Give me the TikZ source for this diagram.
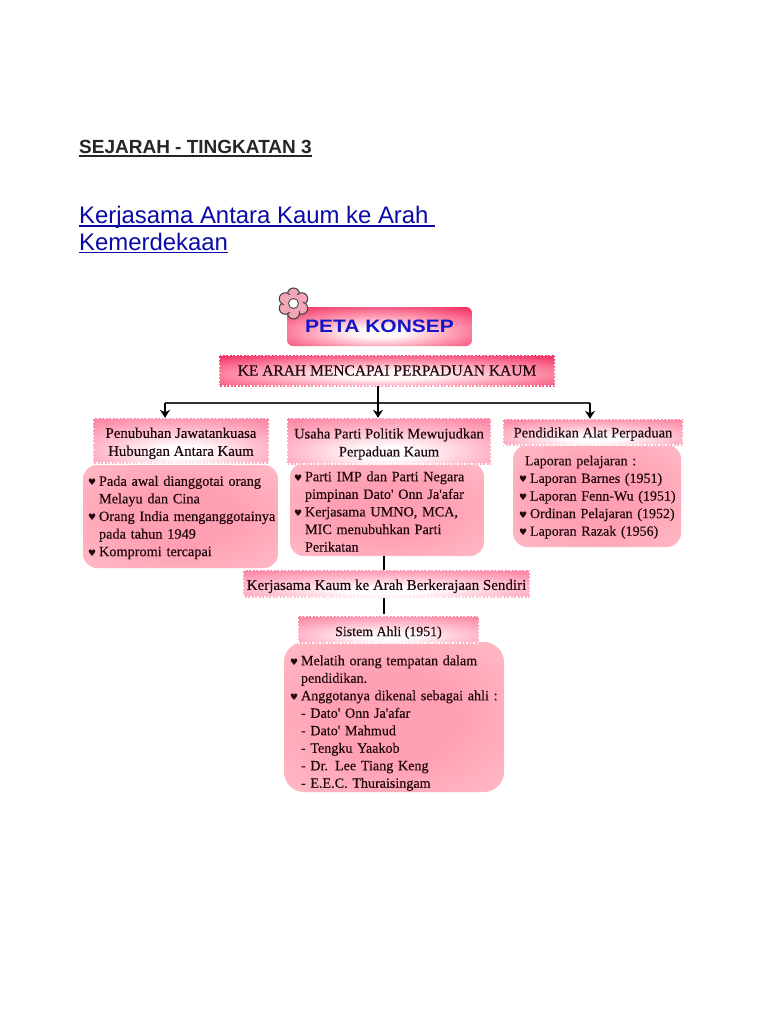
\documentclass[tikz,border=0pt]{standalone}
\usepackage{fontspec}
\setmainfont{Liberation Serif}
\newfontfamily\hdsans{Liberation Sans}
\newfontfamily\heartfont{DejaVu Sans}
\newfontfamily\inkfont[FakeBold=0.25]{Liberation Serif}
\usetikzlibrary{arrows.meta,calc}
\definecolor{titleblue}{HTML}{0A0AA8}
\definecolor{pkblue}{HTML}{1414C8}
\definecolor{inktext}{HTML}{1E060E}
\definecolor{stronga}{HTML}{FF9DB4}
\definecolor{strongb}{HTML}{F22E62}
\definecolor{softa}{HTML}{FFC0CF}
\definecolor{softb}{HTML}{FB7E9E}
\definecolor{bodya}{HTML}{FF9FB2}
\definecolor{bodyb}{HTML}{FFC2CB}
\definecolor{petal}{HTML}{F2A6B8}
\pgfdeclareradialshading{strongshade}{\pgfpoint{0bp}{-8bp}}{color(0bp)=(white!94!pink); color(7bp)=(white!85!pink); color(20bp)=(stronga); color(38bp)=(strongb); color(100bp)=(strongb)}
\pgfdeclareradialshading{softshade}{\pgfpoint{0bp}{-14bp}}{color(0bp)=(white); color(7bp)=(white!97!pink); color(22bp)=(softa); color(42bp)=(softb); color(100bp)=(softb)}
\pgfdeclareradialshading{bodyshade}{\pgfpoint{0bp}{0bp}}{color(0bp)=(bodya); color(14bp)=(bodya); color(42bp)=(bodyb); color(100bp)=(bodyb)}
\newcommand{\hb}{\makebox[11pt][l]{\heartfont\fontsize{9}{9}\selectfont ♥}}
\newcommand{\lowerby}[1]{\rule{0pt}{\dimexpr 10pt+2\dimexpr #1pt\relax\relax}}
\newcommand{\rulebelow}[1]{\setbox0\hbox{#1}\rlap{\rule[-2.6pt]{\wd0}{1.5pt}}\box0}
\tikzset{
  x=1pt,y=-1pt,
  perforated/.style={shading=softshade,minimum height=#1,inner sep=0pt,align=center,text=inktext},
  bodybox/.style={shading=bodyshade,rounded corners=14pt,inner sep=0pt,align=left,text=inktext},
  flow/.style={draw=black,line width=1.6pt,-{Stealth[length=8pt,width=10pt]}},
  plainlink/.style={draw=black,line width=1.6pt},
  edge dots/.style={draw=white,line width=1.5pt,dash pattern=on 1.5pt off 2pt},
}
\begin{document}
\begin{tikzpicture}
\useasboundingbox[fill=white] (0,0) rectangle (768,1024);

% page headings
\node[anchor=base west,inner sep=0pt,font=\hdsans\bfseries\fontsize{19}{22}\selectfont,text=black!85] (sej) at (79,154) {\rulebelow{SEJARAH - TINGKATAN 3}};
\node[anchor=base west,inner sep=0pt,font=\hdsans\fontsize{23.9}{28}\selectfont,text=titleblue] (h1) at (79,224) {\rulebelow{Kerjasama Antara Kaum ke Arah\ }};
\node[anchor=base west,inner sep=0pt,font=\hdsans\fontsize{23.9}{28}\selectfont,text=titleblue] (h2) at (79,250.5) {\rulebelow{Kemerdekaan}};

% bodies first: the headers overlap them
\node[bodybox,shade,minimum width=195pt,minimum height=103pt,text width=185pt,font=\inkfont\fontsize{14.3}{17.6}\selectfont] (bodyL) at (180.5,516.5) {\lowerby{1}\hb Pada awal dianggotai orang\\\hspace*{11pt}Melayu dan Cina\\\hb \mbox{Orang India menganggotainya}\\\hspace*{11pt}pada tahun 1949\\\hb Kompromi tercapai};
\node[bodybox,shade,minimum width=194pt,minimum height=93pt,text width=186pt,font=\inkfont\fontsize{14.2}{17.6}\selectfont] (bodyM) at (387,509.5) {\lowerby{2}\hb Parti IMP dan Parti Negara\\\hspace*{11pt}pimpinan Dato' Onn Ja'afar\\\hb Kerjasama UMNO, MCA,\\\hspace*{11pt}MIC menubuhkan Parti\\\hspace*{11pt}Perikatan};
\node[bodybox,shade,minimum width=168pt,minimum height=102pt,text width=156pt,font=\inkfont\fontsize{14}{17.6}\selectfont] (bodyR) at (597,496) {\lowerby{1}\hspace*{6pt}Laporan pelajaran :\\\hb \mbox{Laporan Barnes (1951)}\\\hb \mbox{Laporan Fenn-Wu (1951)}\\\hb \mbox{Ordinan Pelajaran (1952)}\\\hb \mbox{Laporan Razak  (1956)}};
\node[bodybox,shade,minimum width=220pt,minimum height=150pt,text width=208pt,rounded corners=20pt,font=\inkfont\fontsize{14.1}{17.5}\selectfont] (bodyS) at (394,717) {\lowerby{6}\hb Melatih orang tempatan dalam\\\hspace*{11pt}pendidikan.\\\hb Anggotanya dikenal sebagai ahli :\\\hspace*{11pt}- Dato' Onn Ja'afar\\\hspace*{11pt}- Dato' Mahmud\\\hspace*{11pt}- Tengku Yaakob\\\hspace*{11pt}- Dr. Lee Tiang Keng\\\hspace*{11pt}- E.E.C. Thuraisingam};

% main title boxes
\node[shade,shading=strongshade,rounded corners=6pt,minimum width=185pt,minimum height=39pt,inner sep=0pt,text=pkblue,font=\hdsans\bfseries\fontsize{18}{20}\selectfont] (peta) at (379.5,326.5) {\scalebox{1.165}[1]{PETA KONSEP}};
\node[shade,shading=strongshade,minimum width=336pt,minimum height=31pt,inner sep=0pt,text=inktext,font=\inkfont\fontsize{15.5}{18}\selectfont] (ke) at (387,370.5) {KE ARAH MENCAPAI PERPADUAN KAUM};
\draw[edge dots] (ke.north west) rectangle (ke.south east);

% flower, over the corner of the title box
\foreach \a in {0,60,...,300}{\fill[draw=black!75,line width=1pt,fill=petal] (293.5,303.5) ++(\a+90:-9.5) circle (6);}
\fill[petal] (293.5,303.5) circle (9.5);
\fill[white,draw=black!70,line width=0.9pt] (293.5,303.5) circle (5);

% section headers
\node[shade,perforated=45pt,minimum width=176pt,font=\inkfont\fontsize{14.8}{18}\selectfont] (hdL) at (181,440.5) {\lowerby{3}Penubuhan Jawatankuasa\\Hubungan Antara Kaum};
\node[shade,perforated=46pt,minimum width=204pt,font=\inkfont\fontsize{14.5}{18}\selectfont] (hdM) at (389,441) {\lowerby{3}Usaha Parti Politik Mewujudkan\\Perpaduan Kaum};
\node[shade,perforated=26pt,minimum width=180pt,font=\inkfont\fontsize{14.5}{18}\selectfont] (hdR) at (593,432) {\lowerby{2}Pendidikan Alat Perpaduan};
\node[shade,perforated=27pt,minimum width=287pt,font=\inkfont\fontsize{15}{18}\selectfont] (kj) at (386.5,583.5) {\lowerby{3}Kerjasama Kaum ke Arah Berkerajaan Sendiri};
\node[shade,perforated=27pt,minimum width=181pt,font=\inkfont\fontsize{13.9}{18}\selectfont] (sis) at (388.5,629.5) {\lowerby{3}Sistem Ahli (1951)};
\foreach \n in {hdL,hdM,hdR,kj,sis}{\draw[edge dots] (\n.north west) rectangle (\n.south east);}

% connectors
\coordinate (busL) at (165,403);
\coordinate (busM) at (378,403);
\coordinate (busR) at (590,403);
\coordinate (trunk) at (384,560);
\draw[draw=black!80,line width=1.3pt] (busL) -- (busR);
\draw[plainlink] (ke.south -| busM) -- (busM);
\draw[flow] (busL) -- (hdL.north -| busL);
\draw[flow] (busM) -- (hdM.north -| busM);
\draw[flow] (busR) -- (hdR.north -| busR);
\draw[plainlink,line width=1.2pt] (bodyM.south -| trunk) -- (kj.north -| trunk);
\draw[plainlink,line width=1.6pt] ([yshift=-1pt]kj.south -| trunk) -- ([yshift=2pt]sis.north -| trunk);
\end{tikzpicture}
\end{document}
